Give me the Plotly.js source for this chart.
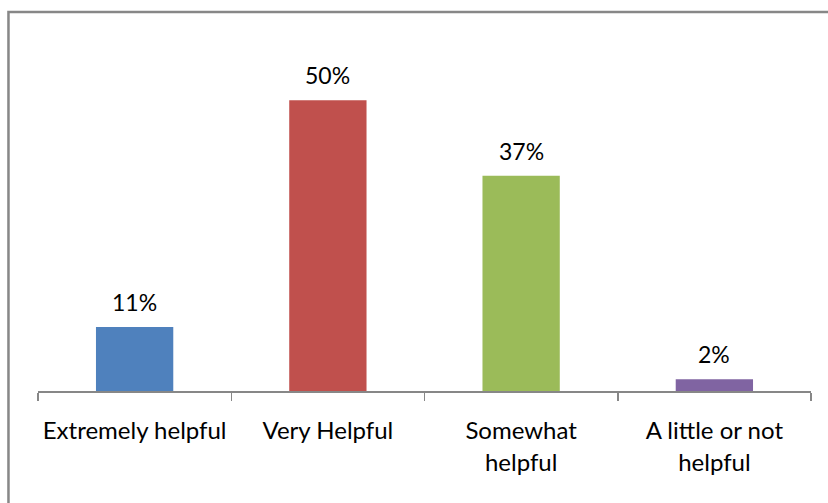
<!DOCTYPE html>
<html>
<head>
<meta charset="utf-8">
<script src="https://cdn.plot.ly/plotly-3.0.1.min.js"></script>
<style>
html,body{margin:0;padding:0;background:#fff;}
#chart{width:828px;height:503px;}
</style>
</head>
<body>
<div id="chart"></div>
<script>
var categories = ["Extremely helpful", "Very Helpful", "Somewhat<br>helpful", "A little or not<br>helpful"];
var values = [11, 50, 37, 2];
var valueLabels = ["11%", "50%", "37%", "2%"];
var barColors = ["#4F81BD", "#C0504D", "#9BBB59", "#8064A2"];

var FONT = "Lato, 'Open Sans', sans-serif";

var trace = {
  type: "bar",
  x: categories,
  y: values,
  marker: {color: barColors},
  width: 0.4,
  hoverinfo: "none"
};

var annotations = categories.map(function(c, i) {
  return {
    x: c, y: values[i], xref: "x", yref: "y",
    text: valueLabels[i], showarrow: false,
    yanchor: "bottom", yshift: 9,
    font: {family: FONT, size: 23, color: "#000"}
  };
});

var layout = {
  width: 828, height: 503,
  margin: {l: 38, r: 17, t: 42, b: 112, pad: 0},
  paper_bgcolor: "#fff", plot_bgcolor: "#fff",
  showlegend: false,
  font: {family: FONT, size: 24, color: "#000"},
  xaxis: {
    type: "category",
    showline: true, linecolor: "#878787", linewidth: 1.5,
    ticks: "outside", tickson: "boundaries", ticklen: 8, tickcolor: "#878787", tickwidth: 1.5,
    ticklabelstandoff: 18,
    showgrid: false, zeroline: false,
    tickfont: {family: FONT, size: 24, color: "#000"},
    tickangle: 0
  },
  yaxis: {
    range: [0, 60], visible: false, showgrid: false, zeroline: false, fixedrange: true
  },
  annotations: annotations,
  shapes: [{
    type: "rect", xref: "paper", yref: "paper",
    x0: -0.0382, x1: 2, y0: -1, y1: 1.086,
    line: {color: "#878787", width: 2.5}, fillcolor: "rgba(0,0,0,0)", layer: "below"
  }]
};

Plotly.newPlot("chart", [trace], layout, {staticPlot: true, displayModeBar: false});
</script>
</body>
</html>
